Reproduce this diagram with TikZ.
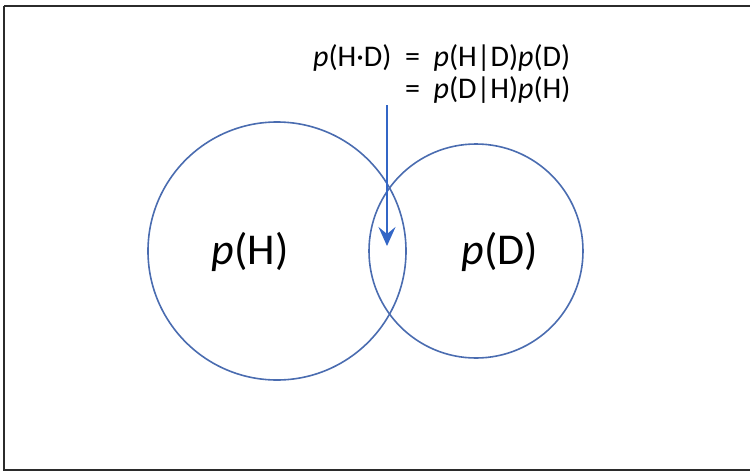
\documentclass[tikz,border=0pt]{standalone}
\usepackage{fontspec}
\setmainfont{Carlito}
\usetikzlibrary{positioning,arrows.meta}
\definecolor{setblue}{HTML}{4A6CB0}
\definecolor{arrblue}{HTML}{3366C6}
\definecolor{framegrey}{HTML}{2B2B2B}

\begin{document}
\begin{tikzpicture}[
  x=1pt, y=-1pt,
  frame/.style={draw=framegrey, line width=2pt},
  % one event of the Venn pair
  evset/.style={circle, draw=setblue, line width=1.6pt, inner sep=0},
  evlbl/.style={inner sep=0, font=\fontsize{44}{50}\selectfont},
  formula/.style={anchor=base west, inner sep=0,
                  font=\fontsize{30}{32}\selectfont},
  pointer/.style={draw=arrblue, line width=2.6pt,
                  -{Stealth[length=19pt, width=17pt, inset=7pt]}}
]
\useasboundingbox (0,0) rectangle (750,472);

% ══ frame (runs off the right edge) ═══════════════════════════════════════
\draw[frame] (4,6) -- (753,6) (4,6) -- (4,470) -- (753,470);

% ══ the two events ════════════════════════════════════════════════════════
\node[evset, minimum size=258pt] (hset) at (277,251) {};
\node[evset, minimum size=214pt] (dset) at (476,251) {};
\node[evlbl] (hlbl) at (250,252) {\textit{p}(H)};
\node[evlbl] (dlbl) at (500,252) {\textit{p}(D)};

% ══ product rule ══════════════════════════════════════════════════════════
\node[formula] (ruleone) at (313,66)
  {\textit{p}(H·D)\ \ =\ \ \textit{p}(H|D)\textit{p}(D)};
\node[formula] (ruletwo) at (313,98)
  {\hphantom{\textit{p}(H·D)\ \ }=\ \ \textit{p}(D|H)\textit{p}(H)};

% ══ pointer into the overlap ══════════════════════════════════════════════
\coordinate (ptrtop) at (387,105);
\coordinate (ptrtip) at (387,246);
\draw[pointer] (ptrtop) -- (ptrtip);

\end{tikzpicture}
\end{document}
